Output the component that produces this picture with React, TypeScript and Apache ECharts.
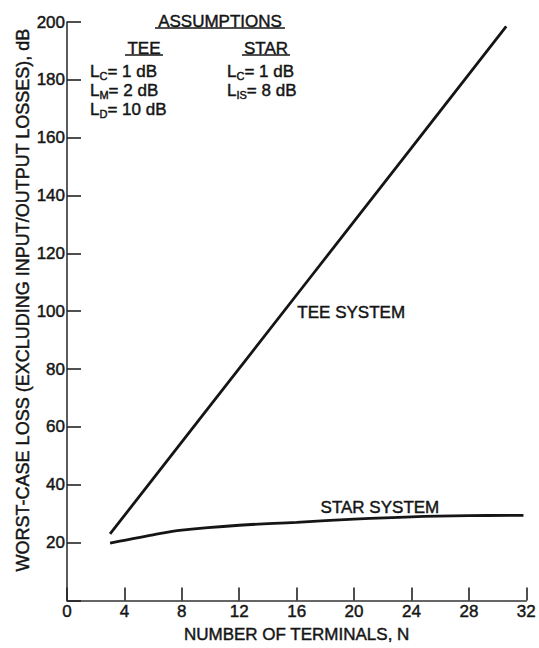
import React, { useEffect, useRef } from "react";
import * as echarts from "echarts";

// ---- data ----
const xTicks = [0, 4, 8, 12, 16, 20, 24, 28, 32];
const yTicks = [0, 20, 40, 60, 80, 100, 120, 140, 160, 180, 200];

const teeN = [3, 10, 17, 24, 30.6];
const teeLoss = [23, 67.5, 112, 156.5, 198.5];

const starN = [3, 4, 6, 8, 12, 16, 20, 24, 28, 31.8];
const starLoss = [19.8, 20.8, 22.7, 24.3, 26.0, 27.0, 28.1, 28.9, 29.3, 29.4];

const seriesNames = ["TEE SYSTEM", "STAR SYSTEM"];
const teeLabelAt = [19.8, 99.5];
const starLabelAt = [21.8, 32.3];

const xTitle = "NUMBER OF TERMINALS, N";
const yTitle = "WORST-CASE LOSS (EXCLUDING INPUT/OUTPUT LOSSES), dB";

const FONT = "'Liberation Sans', Arial, sans-serif";
const INK = "#151515";
const BW = 0.45; // slight stroke to thicken the lettering

export default function App() {
  const ref = useRef<HTMLDivElement>(null);

  useEffect(() => {
    if (!ref.current) return;
    const chart = echarts.init(ref.current, undefined, { renderer: "svg" });

    const zip = (xs: number[], ys: number[]) => xs.map((x, i) => [x, ys[i]]);

    const rich = {
      a: { fontSize: 17, lineHeight: 20, fontFamily: FONT, fill: INK, color: INK },
      s: { fontSize: 11, lineHeight: 10, verticalAlign: "bottom", fontFamily: FONT, fill: INK, color: INK },
    };

    const txt = (x: number, y: number, text: string, align = "center") => ({
      type: "text",
      x,
      y,
      style: {
        text,
        fontSize: 17,
        fontFamily: FONT,
        fill: INK,
        stroke: INK,
        lineWidth: BW,
        align,
        verticalAlign: "middle",
      },
    });

    const richTxt = (x: number, y: number, text: string) => ({
      type: "text",
      x,
      y,
      style: {
        text,
        rich,
        fontFamily: FONT,
        fill: INK,
        stroke: INK,
        lineWidth: BW,
        align: "left",
        verticalAlign: "middle",
      },
    });

    const uline = (x1: number, x2: number, y: number) => ({
      type: "line",
      shape: { x1, y1: y, x2, y2: y },
      style: { stroke: INK, lineWidth: 1.6 },
    });

    const lbl = {
      fontSize: 17,
      fontFamily: FONT,
      color: INK,
      textBorderColor: INK,
      textBorderWidth: BW,
    };

    chart.setOption({
      animation: false,
      backgroundColor: "#ffffff",
      textStyle: { fontFamily: FONT, color: INK },
      grid: { left: 67, right: 12, top: 22, bottom: 44, containLabel: false },
      xAxis: {
        type: "value",
        min: xTicks[0],
        max: xTicks[xTicks.length - 1],
        interval: 4,
        name: xTitle,
        nameLocation: "middle",
        nameGap: 25,
        nameTextStyle: { ...lbl },
        axisLine: { show: true, lineStyle: { color: "#333", width: 1.6 } },
        axisTick: { show: true, inside: true, length: 13, lineStyle: { color: "#222", width: 1.6 } },
        axisLabel: { ...lbl, margin: 3 },
        splitLine: { show: false },
      },
      yAxis: {
        type: "value",
        min: yTicks[0],
        max: yTicks[yTicks.length - 1],
        interval: 20,
        axisLine: { show: true, lineStyle: { color: "#333", width: 1.6 } },
        axisTick: { show: true, inside: true, length: 14, lineStyle: { color: "#222", width: 1.6 } },
        axisLabel: {
          ...lbl,
          margin: 2,
          formatter: (v: number) => (v === 0 ? "" : String(v)),
        },
        splitLine: { show: false },
      },
      series: [
        {
          name: seriesNames[0],
          type: "line",
          data: zip(teeN, teeLoss),
          showSymbol: false,
          symbol: "none",
          lineStyle: { color: INK, width: 2.8 },
          markPoint: {
            symbol: "circle",
            symbolSize: 1,
            itemStyle: { color: "rgba(0,0,0,0)" },
            label: { show: true, position: "inside", formatter: seriesNames[0], ...lbl },
            data: [{ coord: teeLabelAt }],
          },
        },
        {
          name: seriesNames[1],
          type: "line",
          data: zip(starN, starLoss),
          smooth: 0.4,
          showSymbol: false,
          symbol: "none",
          lineStyle: { color: INK, width: 2.8 },
          markPoint: {
            symbol: "circle",
            symbolSize: 1,
            itemStyle: { color: "rgba(0,0,0,0)" },
            label: { show: true, position: "inside", formatter: seriesNames[1], ...lbl },
            data: [{ coord: starLabelAt }],
          },
        },
      ],
      graphic: [
        {
          type: "text",
          x: 23,
          y: 300,
          rotation: Math.PI / 2,
          style: {
            text: yTitle,
            fontSize: 18,
            fontFamily: FONT,
            fill: INK,
            stroke: INK,
            lineWidth: BW,
            align: "center",
            verticalAlign: "middle",
          },
        },
        txt(220, 21, "ASSUMPTIONS"),
        uline(155, 285, 28),
        txt(144, 48, "TEE"),
        uline(125, 163, 55),
        txt(266, 48, "STAR"),
        uline(242, 290, 55),
        richTxt(90, 71, "{a|L}{s|C}{a|= 1 dB}"),
        richTxt(90, 90, "{a|L}{s|M}{a|= 2 dB}"),
        richTxt(90, 109, "{a|L}{s|D}{a|= 10 dB}"),
        richTxt(227, 71, "{a|L}{s|C}{a|= 1 dB}"),
        richTxt(227, 90, "{a|L}{s|IS}{a|= 8 dB}"),
      ],
    });

    return () => chart.dispose();
  }, []);

  return (
    <div
      ref={ref}
      style={{ position: "fixed", left: 0, top: 0, width: 539, height: 648, background: "#fff" }}
    />
  );
}
